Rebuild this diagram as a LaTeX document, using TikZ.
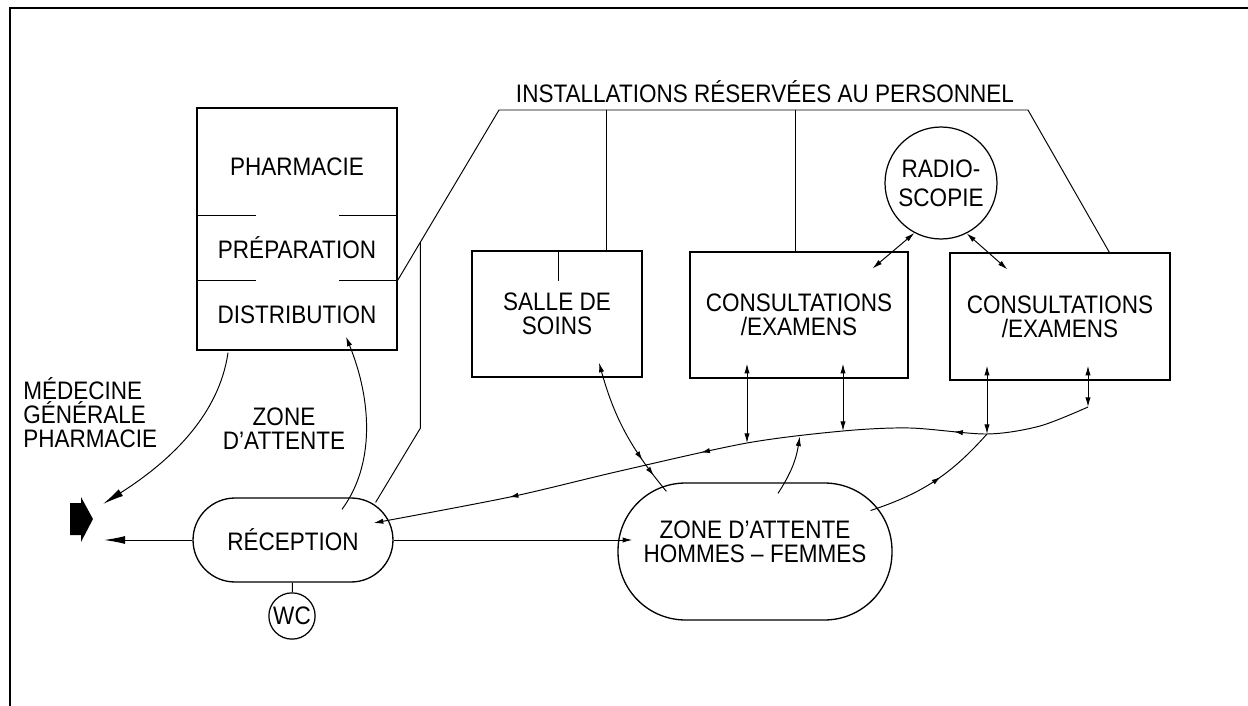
\documentclass[tikz,border=0pt]{standalone}
\usepackage{fontspec}
\setmainfont{Liberation Sans}[FakeStretch=0.89]
\usetikzlibrary{arrows.meta, calc, decorations.markings}
\newcommand{\labfont}{\fontsize{14.4}{13.6}\selectfont}

\begin{document}
\begin{tikzpicture}[x=0.02cm, y=-0.02cm, >=Latex]

  \tikzset{
    room/.style = {
      rectangle, draw, line width=0.75pt, inner sep=0pt,
      align=center, font=\labfont
    },
    pill/.style = {
      rectangle, draw, line width=0.75pt, inner sep=0pt,
      align=center, font=\labfont
    },
    circ/.style = {
      circle, draw, line width=0.7pt, inner sep=1pt,
      align=center, font=\labfont
    },
    txt/.style = {
      inner sep=0pt, align=center, font=\labfont
    },
    conn/.style = {
      line width=0.55pt
    },
    arr/.style = {
      conn, -{Latex[length=5.5pt, width=3pt]}
    },
    dbl/.style = {
      conn, {Latex[length=5.5pt, width=3pt]}-{Latex[length=5.5pt, width=3pt]}
    },
    outarr/.style = {
      conn, -{Latex[length=12pt, width=4.5pt]}
    },
    midarr/.style = {
      postaction={decorate, decoration={markings,
        mark=at position #1 with {\arrow{Latex[length=5pt, width=3pt]}}}}
    }
  }

  \useasboundingbox (0,0) rectangle (1248,706);

  % --- Frame ------------------------------------------------------------------
  \draw [line width=0.6pt] (10,706) -- (10,8) -- (1248,8);

  % --- Pharmacy block -----------------------------------------------------------
  \node (pharm) [room, minimum width=4cm, minimum height=4.84cm] at (297,229) {};
  \node (pharmtxt) [txt] at (297,167) {PHARMACIE};
  \node (prep)     [txt] at (297,248) {PRÉPARATION};
  \node (distr)    [txt] at (297,315) {DISTRIBUTION};
  \draw [line width=0.75pt] ($(pharm.north west)+(0,108)$) -- ++(60,0)
                            ($(pharm.north east)+(0,108)$) -- ++(-59,0);
  \draw [line width=0.75pt] ($(pharm.north west)+(0,173)$) -- ++(60,0)
                            ($(pharm.north east)+(0,173)$) -- ++(-59,0);

  % --- Rooms ----------------------------------------------------------------------
  \node (salle) [room, minimum width=3.4cm, minimum height=2.52cm] at (557,314)
    {SALLE DE\\SOINS};
  \node (cons1) [room, minimum width=4.36cm, minimum height=2.52cm] at (799,315)
    {CONSULTATIONS\\/EXAMENS};
  \node (cons2) [room, minimum width=4.4cm, minimum height=2.54cm] at (1060,316.5)
    {CONSULTATIONS\\/EXAMENS};
  \node (radio) [circ, minimum size=2.24cm] at (941,183) {RADIO-\\[3pt]SCOPIE};

  \node (recep) [pill, minimum width=4cm, minimum height=1.68cm,
                 rounded corners=0.84cm] at (293,540) {RÉCEPTION};
  \node (wc)    [circ, minimum size=0.92cm] at (292,616) {WC};
  \node (zone)  [pill, minimum width=5.48cm, minimum height=2.74cm,
                 rounded corners=1.35cm] at (755,551.5) {};
  \node (zonetxt) [txt] at ($(zone.center)+(0,-10)$) {ZONE D'ATTENTE\\HOMMES -- FEMMES};

  % --- Labels -----------------------------------------------------------------------
  \node (staff)   [txt] at (765,92) {INSTALLATIONS RÉSERVÉES AU PERSONNEL};
  \node (medgen)  [txt, align=left, anchor=west] at (23,413)
    {MÉDECINE\\GÉNÉRALE\\PHARMACIE};
  \node (attente) [txt] at (284,429) {ZONE\\D'ATTENTE};

  % exit symbol
  \coordinate (exit) at (81,519);
  \fill (exit) +(-11,-16) -- +(0,-16) -- +(0,-22) -- +(12,0) -- +(0,23)
        -- +(0,16) -- +(-11,16) -- cycle;

  % --- Staff network ------------------------------------------------------------------
  \coordinate (div2) at ($(pharm.north east)+(0,173)$);
  \coordinate (stL)  at (499,110);
  \coordinate (stR)  at (1028,110);
  \coordinate (d1)   at (606,110);
  \coordinate (d2)   at (795,110);
  \draw [conn] (div2) -- (stL) -- (stR) -- ($(cons2.north west)+(160,0)$);
  \draw [conn] (d1) -- (d1 |- salle.north);
  \draw [conn] (d2) -- (d2 |- cons1.north);
  \draw [conn] ($(salle.north)+(1,0)$) -- ++(0,31);
  \coordinate (br) at ($(div2)!0.225!(stL)$);
  \draw [conn] (br) -- ++(0,186) -- ($(recep.north east)+(-18,5)$);

  % --- Patient flows --------------------------------------------------------------------
  \draw [outarr] ($(pharm.south)+(-69,2)$) .. controls +(-10,70) and +(55,-35)
    .. ($(exit)+(22,-15)$);
  \draw [outarr] (recep.west) -- ($(exit)+(23,21)$);
  \draw [arr] ($(recep.north)+(49,12)$) .. controls +(33,-45) and +(26,64)
    .. ($(pharm.south)+(49,-14)$);
  \draw [conn] (recep) -- (wc);
  \coordinate (zin) at ($(zone.west)+(15,0)$);
  \draw [arr] (recep.east) -- (zin |- recep.east);

  % long return corridor
  \coordinate (c1)  at (1088,407);
  \coordinate (c2)  at (987,434);
  \coordinate (c3)  at (843,431);
  \coordinate (c5)  at (747,443);
  \coordinate (c4)  at ($(c3)!0.45!(c5)$);
  \coordinate (rin) at ($(recep.east)+(-20,-17)$);
  \draw [arr, midarr=0.19, midarr=0.54, midarr=0.81]
    plot [smooth, tension=0.5] coordinates
    {(c1) (1040,426) (c2) (910,428) (c3) (c5) (620,471) (510,497) (rin)};

  \draw [dbl] ($(c5 |- cons1.south)+(0,-15)$) -- (c5);
  \draw [dbl] ($(c3 |- cons1.south)+(0,-15)$) -- (c3);
  \draw [dbl] ($(c2 |- cons2.south)+(0,-15)$) -- (c2);
  \draw [dbl] ($(c1 |- cons2.south)+(0,-15)$) -- (c1);

  \draw [dbl] (radio.242) -- ($(cons1.north east)+(-36,17)$);
  \draw [dbl] (radio.297) -- ($(cons2.north west)+(58,17)$);

  \draw [conn, {Latex[length=5.5pt, width=3pt]}-, midarr=0.73, midarr=0.86]
    ($(salle.south)+(42,-15)$) to [bend right=12] ($(zone.north west)+(49,9)$);
  \draw [arr] ($(zone.north)+(23,11)$) to [bend right=12] (c4);
  \draw [conn, midarr=0.55] ($(zone.east)+(-22,-41)$) to [bend right=15] (c2);

\end{tikzpicture}
\end{document}
